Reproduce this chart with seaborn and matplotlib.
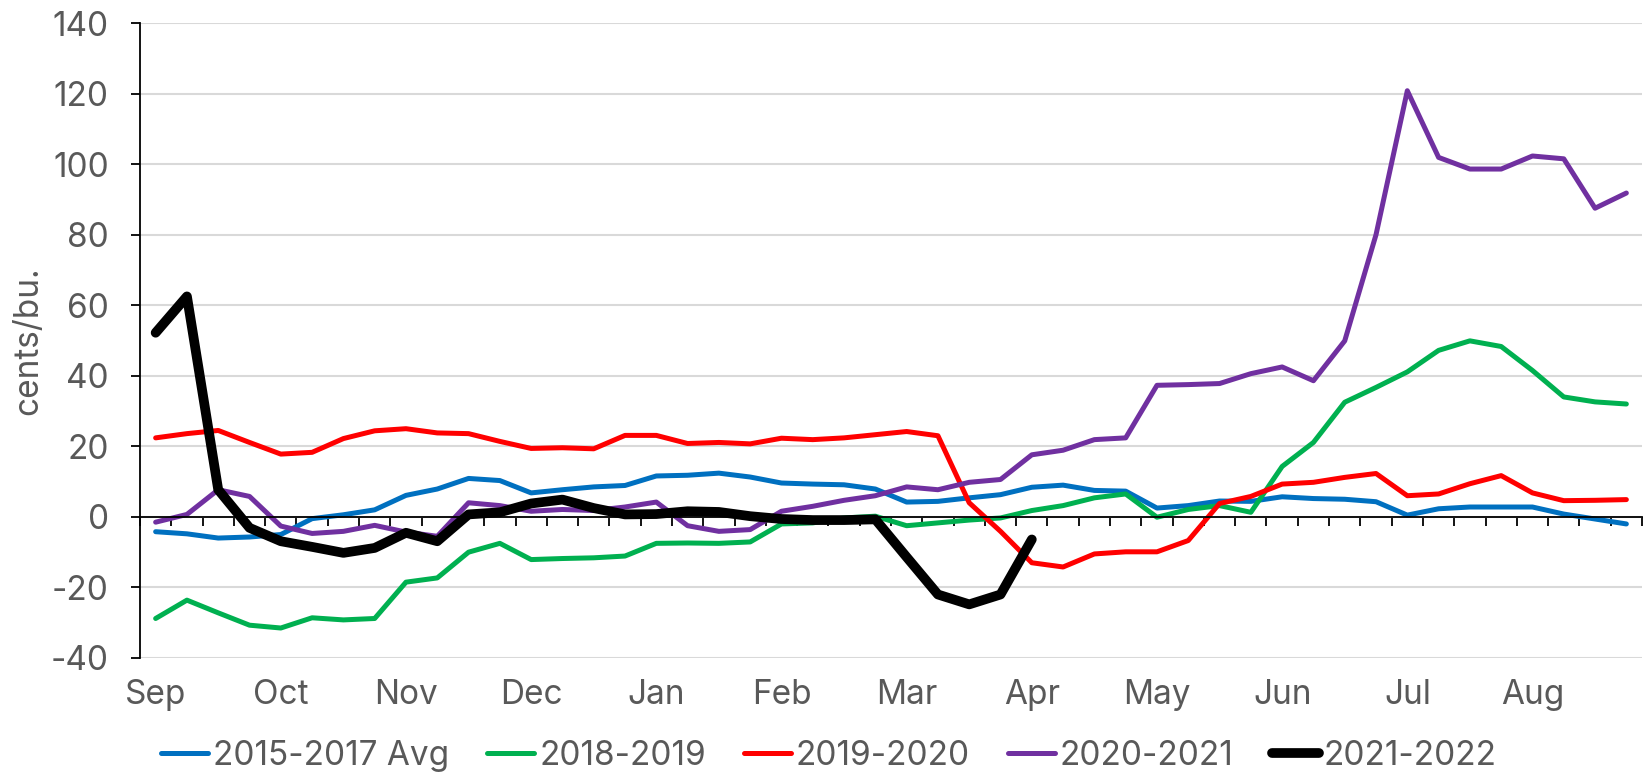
import matplotlib
matplotlib.use("Agg")
import matplotlib.pyplot as plt
import seaborn as sns
import numpy as np

sns.set_style("white")
plt.rcParams['font.family'] = ['Inter', 'DejaVu Sans']
plt.rcParams['axes.unicode_minus'] = False

# weekly spread, Sep .. Aug (48 weeks)
months = ["Sep", "Oct", "Nov", "Dec", "Jan", "Feb", "Mar", "Apr", "May", "Jun", "Jul", "Aug"]
month_pos = [0, 4, 8, 12, 16, 20, 24, 28, 32, 36, 40, 44]

avg_15_17 = [-4.2, -4.8, -6.0, -5.7, -5.0, -0.5, 0.6, 2.0, 6.1, 7.9, 10.9, 10.3,
             6.8, 7.7, 8.5, 8.9, 11.6, 11.8, 12.4, 11.3, 9.6, 9.3, 9.1, 7.9,
             4.2, 4.4, 5.4, 6.3, 8.4, 9.0, 7.5, 7.3, 2.5, 3.2, 4.5, 4.4,
             5.7, 5.2, 5.0, 4.3, 0.5, 2.3, 2.8, 2.8, 2.8, 0.8, -0.6, -2.0]
y18_19 = [-28.8, -23.6, -27.2, -30.7, -31.5, -28.6, -29.2, -28.8, -18.5, -17.3, -10.0, -7.5,
          -12.1, -11.8, -11.6, -11.1, -7.5, -7.4, -7.5, -7.1, -2.0, -1.7, -0.3, 0.2,
          -2.5, -1.7, -0.9, -0.3, 1.8, 3.2, 5.4, 6.5, -0.1, 2.1, 3.2, 1.3,
          14.3, 21.1, 32.5, 36.7, 41.1, 47.2, 49.9, 48.3, 41.5, 34.0, 32.6, 32.0]
y19_20 = [22.4, 23.6, 24.5, 21.1, 17.8, 18.3, 22.2, 24.4, 25.0, 23.8, 23.6, 21.4,
          19.4, 19.6, 19.3, 23.1, 23.1, 20.8, 21.1, 20.7, 22.3, 21.9, 22.4, 23.3,
          24.2, 23.0, 4.0, -4.1, -13.0, -14.2, -10.5, -9.9, -9.9, -6.7, 3.8, 5.8,
          9.3, 9.8, 11.2, 12.3, 6.0, 6.5, 9.4, 11.7, 6.8, 4.6, 4.7, 4.9]
y20_21 = [-1.5, 0.7, 7.7, 5.8, -2.6, -4.7, -4.1, -2.4, -4.3, -5.5, 4.0, 3.2,
          1.6, 2.1, 1.8, 2.8, 4.2, -2.5, -4.1, -3.6, 1.6, 3.0, 4.7, 6.0,
          8.5, 7.7, 9.8, 10.6, 17.6, 18.9, 21.9, 22.4, 37.3, 37.5, 37.8, 40.6,
          42.5, 38.6, 49.9, 80.0, 120.8, 101.9, 98.6, 98.6, 102.3, 101.5, 87.5, 91.8]
y21_22 = [52.2, 62.5, 7.7, -3.1, -6.9, -8.5, -10.2, -8.8, -4.5, -6.9, 0.7, 1.3,
          3.8, 4.9, 2.5, 0.7, 0.8, 1.6, 1.4, 0.2, -0.6, -0.9, -0.9, -0.7,
          -11.4, -22.0, -24.8, -22.0, -6.4]

series = [
    ("2015-2017 Avg", avg_15_17, "#0070C0", 3.6),
    ("2018-2019", y18_19, "#00B050", 3.6),
    ("2019-2020", y19_20, "#FF0000", 3.6),
    ("2020-2021", y20_21, "#7030A0", 3.6),
    ("2021-2022", y21_22, "#000000", 7.0),
]

txt = "#595959"
fs = 24

fig = plt.figure(figsize=(16.45, 7.74), dpi=100)
ax = fig.add_axes([140 / 1645, 1 - 658 / 774, 1502 / 1645, 635 / 774])

for name, vals, col, lw in series:
    sns.lineplot(x=np.arange(len(vals)), y=vals, color=col, linewidth=lw,
                 label=name, ax=ax, legend=False)

ax.set_xlim(-0.5, 47.5)
ax.set_ylim(-40, 140)
ax.set_yticks(range(-40, 141, 20))
ax.yaxis.grid(True, color="#D9D9D9", linewidth=1.5)
ax.xaxis.grid(False)
ax.set_axisbelow(True)

# category axis crosses at zero, tick marks between weeks
ax.spines['bottom'].set_position(('data', 0))
ax.spines['bottom'].set_color("black")
ax.spines['bottom'].set_linewidth(1.3)
ax.spines['left'].set_color("black")
ax.spines['left'].set_linewidth(1.3)
ax.spines['top'].set_visible(False)
ax.spines['right'].set_visible(False)
ax.set_xticks(np.arange(-0.5, 48, 1))
ax.tick_params(axis='x', direction='out', length=6.5, width=1.3, color="black",
               labelbottom=False, bottom=True)
ax.tick_params(axis='y', direction='out', length=6.5, width=1.3, color="black",
               labelcolor=txt, labelsize=fs, pad=16, left=True)

# month labels sit low, under the plot area
secax = ax.secondary_xaxis(0.0)
secax.set_xticks(month_pos, labels=months)
secax.tick_params(length=0, pad=15, labelsize=fs, labelcolor=txt)
secax.spines['bottom'].set_visible(False)

ax.set_xlabel("")
ax.set_ylabel("cents/bu.", fontsize=fs, color=txt)
ax.yaxis.set_label_coords(-0.064, 0.5)

handles, labels = ax.get_legend_handles_labels()
leg = fig.legend(handles, labels, loc='center', bbox_to_anchor=(829 / 1645, 1 - 756 / 774),
                 ncol=5, frameon=False, fontsize=fs, handlelength=1.4,
                 handletextpad=0.15, columnspacing=1.15)
for t in leg.get_texts():
    t.set_color(txt)

fig.savefig("out.png", dpi=100)
